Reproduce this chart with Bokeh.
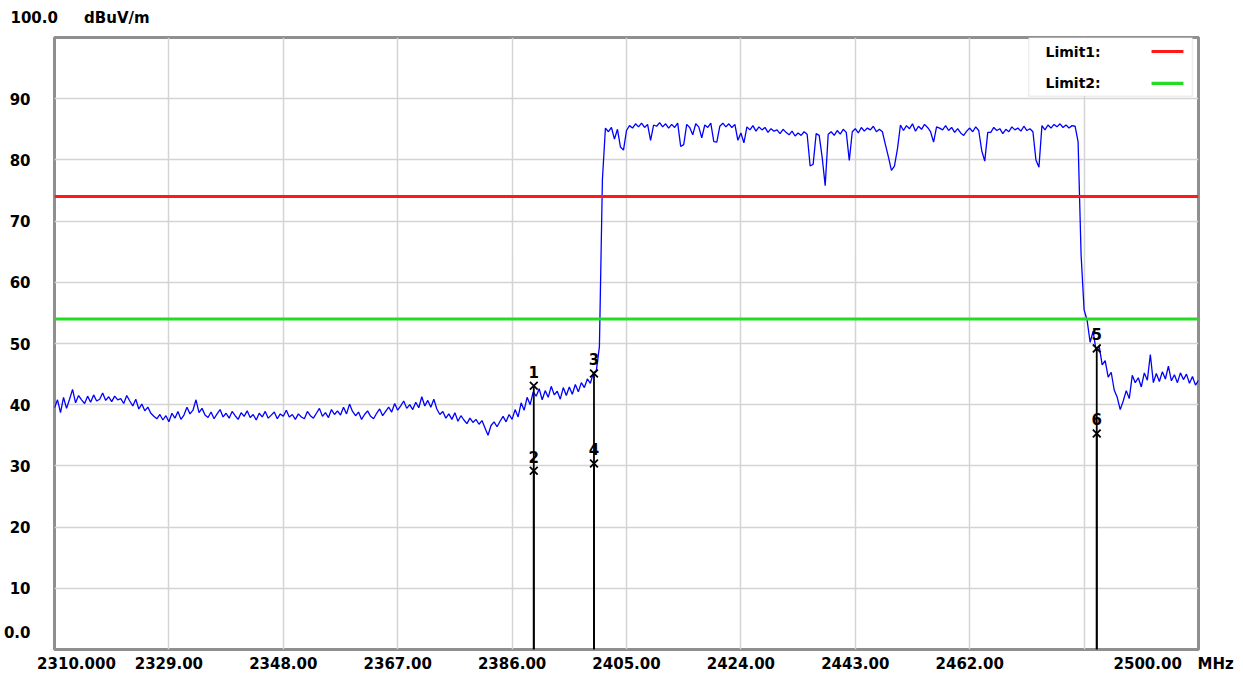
import numpy as np
from bokeh.plotting import figure
from bokeh.models import ColumnDataSource, FixedTicker, Label, BoxAnnotation, Span, Title
from bokeh.core.properties import value
from bokeh.embed import file_html
from bokeh.resources import INLINE

# ---------------- data ----------------
F_START = 2310.0
F_STOP = 2500.0

level = [
    # 2310.0 - 2319.5
    39.5, 40.8, 38.7, 41.2, 39.4, 40.9, 42.5, 40.3, 41.5, 40.8, 40.2, 41.4, 40.4, 41.6, 40.6, 40.9, 41.9, 40.7, 41.3, 40.5,
    # 2320.0 - 2329.5
    41.4, 40.8, 41.0, 40.2, 41.5, 40.6, 39.8, 40.9, 39.3, 40.1, 39.0, 39.6, 38.6, 38.1, 37.7, 38.4, 37.5, 38.2, 37.2, 38.6,
    # 2330.0 - 2339.5
    37.8, 38.9, 37.6, 38.3, 39.6, 38.5, 39.1, 40.8, 38.7, 39.4, 38.3, 37.9, 38.8, 37.7, 38.5, 39.2, 38.0, 38.6, 37.8, 38.9,
    # 2340.0 - 2349.5
    38.2, 37.6, 38.7, 38.1, 39.0, 37.9, 38.4, 37.5, 38.6, 38.0, 38.9, 37.8, 38.3, 38.8, 37.7, 38.5, 38.1, 39.1, 38.0, 38.4,
    # 2350.0 - 2359.5
    37.6, 38.5, 38.0, 37.7, 38.9, 38.2, 37.8, 38.6, 39.4, 38.1, 38.7, 37.9, 39.2, 38.4, 39.0, 38.3, 39.6, 38.5, 40.1, 38.9,
    # 2360.0 - 2369.5
    38.2, 38.8, 37.6, 38.4, 39.0, 38.1, 37.7, 38.6, 39.3, 38.2, 38.9, 39.6, 38.8, 40.2, 39.1, 39.8, 40.6, 39.4, 40.0, 39.2,
    # 2370.0 - 2379.5
    40.4, 39.5, 41.3, 39.8, 40.7, 39.6, 40.9, 39.3, 38.4, 38.9, 37.8, 38.5, 37.6, 38.7, 37.3, 38.2, 37.5, 36.9, 37.8, 37.1,
    # 2380.0 - 2389.5
    37.6, 36.8, 37.4, 36.2, 35.0, 36.6, 37.2, 36.4, 37.3, 38.1, 37.2, 38.4, 37.6, 39.2, 38.0, 40.3, 39.1, 41.2, 40.0, 42.1,
    # 2390.0 - 2399.5
    41.4, 42.6, 40.8, 42.3, 41.2, 43.0, 41.6, 42.2, 40.9, 42.8, 41.5, 42.9, 41.7, 43.3, 42.1, 43.6, 42.8, 44.2, 43.5, 45.2,
    # 2400.0 - 2409.5
    45.6, 49.5, 76.8, 85.2, 84.6, 85.3, 83.4, 85.0, 82.1, 81.6, 84.8, 85.6, 85.2, 85.9, 85.4, 86.0, 85.3, 85.8, 83.2, 85.7,
    # 2410.0 - 2419.5
    85.5, 86.1, 85.4, 85.9, 85.2, 85.8, 85.3, 86.0, 82.2, 82.5, 85.8, 85.3, 84.1, 85.9, 85.4, 83.6, 85.7, 85.3, 86.0, 83.0,
    # 2420.0 - 2429.5
    82.9, 85.5, 86.0, 85.4, 85.9, 85.3, 85.8, 83.2, 84.4, 82.8, 85.4, 84.9, 85.6, 84.7, 85.4, 84.9, 85.3, 84.5, 85.1, 84.7,
    # 2430.0 - 2439.5
    84.9, 84.3, 85.0, 84.5, 84.1, 84.7, 83.9, 84.4, 84.0, 84.6, 84.2, 79.0, 79.3, 84.3, 84.0, 80.4, 75.8, 84.2, 84.6, 84.0,
    # 2440.0 - 2449.5
    84.8, 84.2, 85.0, 84.5, 79.9, 84.6, 85.1, 84.4, 85.3, 84.7, 85.2, 84.9, 85.5, 84.6, 85.0, 84.6, 82.5, 80.5, 78.3, 79.0,
    # 2450.0 - 2459.5
    81.8, 85.7, 84.8, 85.6, 85.1, 85.9, 84.7, 85.5, 85.0, 85.8, 85.3, 84.6, 82.9, 85.4, 85.2, 84.9, 85.6, 84.8, 85.3, 84.5,
    # 2460.0 - 2469.5
    85.1, 84.4, 84.0, 84.7, 85.2, 84.6, 85.4, 84.8, 81.5, 79.8, 84.5, 84.5, 85.3, 84.8, 85.1, 84.3, 85.0, 84.6, 85.4, 84.9,
    # 2470.0 - 2479.5
    85.2, 84.7, 85.5, 84.8, 85.1, 84.6, 80.0, 78.8, 85.6, 84.9, 85.7, 85.2, 85.8, 85.4, 85.9, 85.3, 85.7, 85.2, 85.6, 85.5,
    # 2480.0 - 2489.5
    83.0, 64.5, 55.5, 53.8, 50.2, 52.0, 48.8, 49.6, 46.5, 47.2, 44.5, 45.3, 42.4, 41.2, 39.2, 40.6, 42.3, 41.0, 44.8, 43.6,
    # 2490.0 - 2499.5
    44.4, 42.9, 45.2, 44.0, 48.2, 43.6, 45.1, 43.8, 45.4, 44.2, 46.3, 43.9, 44.9, 43.6, 45.2, 44.1, 45.0, 43.5, 44.6, 43.2,
    # 2500.0
    44.0,
]

limit1 = 74.0
limit2 = 54.0
limit_names = ["Limit1:", "Limit2:"]

marker_ids = ["1", "2", "3", "4", "5", "6"]
marker_freq = [2389.6, 2389.6, 2399.6, 2399.6, 2483.1, 2483.1]
marker_level = [43.1, 29.2, 45.1, 30.4, 49.2, 35.3]

# grid positions
x_grid = [2310, 2329, 2348, 2367, 2386, 2405, 2424, 2443, 2462, 2481, 2500]
y_grid = [0, 10, 20, 30, 40, 50, 60, 70, 80, 90, 100]
# tick labels as printed (end labels sit shifted inward, as on the analyser print-out)
x_label_pos = [2313.65, 2329, 2348, 2367, 2386, 2405, 2424, 2443, 2462, 2495.87]
x_labels = ["2310.000", "2329.00", "2348.00", "2367.00", "2386.00", "2405.00",
            "2424.00", "2443.00", "2462.00", "2500.00\u00a0\u00a0\u00a0MHz"]
y_label_pos = [2.78, 10, 20, 30, 40, 50, 60, 70, 80, 90]
y_labels = ["0.0", "10", "20", "30", "40", "50", "60", "70", "80", "90"]
top_label = "100.0\u00a0\u00a0\u00a0\u00a0\u00a0dBuV/m"

# ---------------- plot ----------------
freq = np.linspace(F_START, F_STOP, len(level))

FONT = "DejaVu Sans"
FS = "15px"

p = figure(width=1243, height=677, x_range=(F_START, F_STOP), y_range=(0, 100),
           output_backend="svg", toolbar_location=None,
           min_border_left=52, min_border_right=45, min_border_top=37, min_border_bottom=28)
p.background_fill_color = "white"
p.border_fill_color = "white"
p.outline_line_color = "#8f8f8f"
p.outline_line_width = 3

p.add_layout(Title(text=top_label, align="left", offset=-44, standoff=17,
                   vertical_align="top", text_font=FONT, text_font_style="bold",
                   text_font_size=FS, text_color="black"), "above")

# axes
p.xaxis.ticker = FixedTicker(ticks=x_label_pos)
p.yaxis.ticker = FixedTicker(ticks=y_label_pos)
p.xaxis.major_label_overrides = {t: s for t, s in zip(x_label_pos, x_labels)}
p.yaxis.major_label_overrides = {t: s for t, s in zip(y_label_pos, y_labels)}
for ax in (p.xaxis[0], p.yaxis[0]):
    ax.axis_line_color = None
    ax.major_tick_line_color = None
    ax.minor_tick_line_color = None
    ax.major_tick_out = 0
    ax.major_tick_in = 0
    ax.major_label_text_font = FONT
    ax.major_label_text_font_style = "bold"
    ax.major_label_text_font_size = FS
    ax.major_label_text_color = "black"
p.xaxis.major_label_standoff = 5
p.yaxis.major_label_standoff = 24

p.xgrid.ticker = FixedTicker(ticks=x_grid)
p.ygrid.ticker = FixedTicker(ticks=y_grid)
p.grid.grid_line_color = "#d4d4d4"
p.grid.grid_line_width = 1.5

# trace
p.line(freq, level, line_color="#0000ff", line_width=1.3)

# limits
p.add_layout(Span(location=limit1, dimension="width", line_color="#ff1a1a", line_width=3))
p.add_layout(Span(location=limit2, dimension="width", line_color="#22dd22", line_width=3))

# markers
msrc = ColumnDataSource(dict(f=marker_freq, lvl=marker_level, id=marker_ids,
                             base=[0] * len(marker_ids)))
p.segment(x0="f", y0="lvl", x1="f", y1="base", source=msrc, line_color="black", line_width=1.8)
p.scatter(x="f", y="lvl", source=msrc, marker="x", size=11, line_color="black", line_width=1.8)
p.text(x="f", y="lvl", text="id", source=msrc, y_offset=-14, text_align="center",
       text_baseline="middle", text_font=value(FONT), text_font_style="bold",
       text_font_size="15px", text_color="black")

# legend box (top right)
p.add_layout(BoxAnnotation(left=2471.8, right=2499.0, bottom=90.4, top=100,
                           fill_color="white", fill_alpha=1.0,
                           line_color="#c4c4c4", line_width=1.5))
p.add_layout(BoxAnnotation(left=2492.2, right=2497.5, bottom=97.45, top=97.95,
                           fill_color="#ff1a1a", fill_alpha=1.0, line_color=None))
p.add_layout(BoxAnnotation(left=2492.2, right=2497.5, bottom=92.25, top=92.75,
                           fill_color="#22dd22", fill_alpha=1.0, line_color=None))
for yy, name in zip([97.7, 92.5], limit_names):
    p.add_layout(Label(x=2474.6, y=yy, text=name, text_align="left", text_baseline="middle",
                       text_font=FONT, text_font_style="bold", text_font_size="14px",
                       text_color="black"))

open("out.html", "w").write(file_html(p, INLINE))
